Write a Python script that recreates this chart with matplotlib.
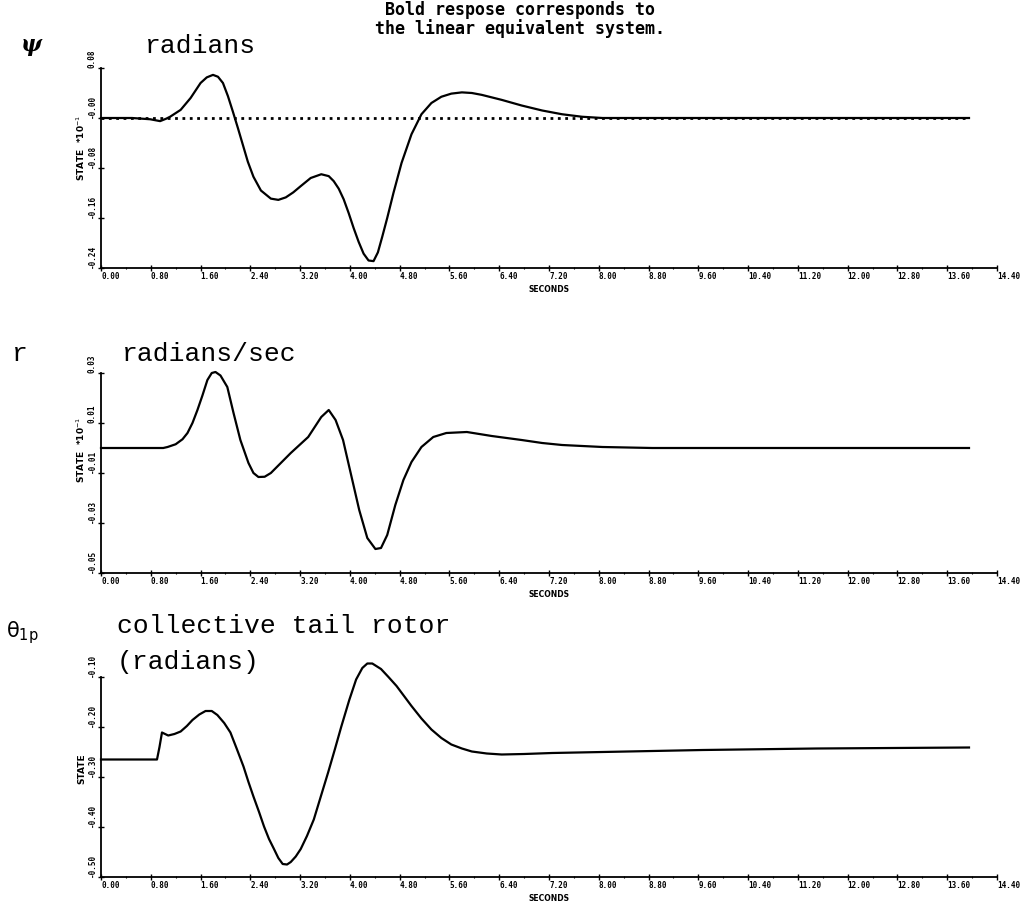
import matplotlib
matplotlib.use("Agg")
import matplotlib.pyplot as plt
import numpy as np

# yaw angle response (x 10^-1 rad)
t_psi = [0.00, 0.50, 0.79, 0.95, 1.05, 1.11, 1.28, 1.44, 1.60, 1.70, 1.80, 1.88,
         1.96, 2.04, 2.12, 2.20, 2.28, 2.36, 2.45, 2.57, 2.73, 2.85, 2.97, 3.09,
         3.21, 3.37, 3.54, 3.66, 3.74, 3.82, 3.90, 3.98, 4.06, 4.14, 4.22, 4.30,
         4.38, 4.45, 4.52, 4.60, 4.70, 4.83, 4.99, 5.15, 5.31, 5.47, 5.63, 5.80,
         5.96, 6.12, 6.44, 6.76, 7.09, 7.41, 7.73, 8.06, 9.00, 13.95]
psi = [0.000, 0.000, -0.002, -0.005, -0.001, 0.002, 0.013, 0.032, 0.056, 0.065, 0.069, 0.066,
       0.056, 0.035, 0.010, -0.016, -0.043, -0.070, -0.094, -0.116, -0.129, -0.131, -0.127, -0.119,
       -0.109, -0.096, -0.090, -0.093, -0.101, -0.113, -0.130, -0.152, -0.176, -0.198, -0.217, -0.228,
       -0.229, -0.215, -0.190, -0.160, -0.120, -0.072, -0.026, 0.006, 0.024, 0.034, 0.039, 0.041,
       0.040, 0.037, 0.029, 0.020, 0.012, 0.006, 0.002, 0.000, 0.000, 0.000]
# linear equivalent system (dotted)
t_psi_lin = [0.00, 13.95]
psi_lin = [0.0, 0.0]

# yaw rate response (x 10^-1 rad/s)
t_r = [0.00, 1.00, 1.07, 1.20, 1.31, 1.39, 1.47, 1.55, 1.63, 1.71, 1.78, 1.84,
       1.92, 2.03, 2.13, 2.24, 2.37, 2.45, 2.53, 2.63, 2.73, 2.89, 3.05, 3.33,
       3.54, 3.66, 3.77, 3.89, 4.02, 4.15, 4.28, 4.41, 4.50, 4.60, 4.73, 4.86,
       4.99, 5.15, 5.34, 5.55, 5.88, 6.28, 6.76, 7.09, 7.41, 8.06, 8.86, 13.95]
r = [0.0, 0.0, 0.0004, 0.0015, 0.0035, 0.006, 0.010, 0.0152, 0.021, 0.0272, 0.030, 0.0304,
     0.029, 0.0244, 0.014, 0.0032, -0.006, -0.010, -0.0116, -0.0115, -0.010, -0.006, -0.002, 0.0044,
     0.0124, 0.0152, 0.0112, 0.0032, -0.0108, -0.0248, -0.036, -0.0404, -0.040, -0.0348, -0.0228, -0.0128,
     -0.0056, 0.0004, 0.0044, 0.006, 0.0064, 0.0048, 0.0032, 0.002, 0.0012, 0.0004, 0.0, 0.0]

# collective tail rotor (rad)
t_th = [0.00, 0.90, 0.94, 0.98, 1.03, 1.08, 1.18, 1.28, 1.38, 1.47, 1.58, 1.68,
        1.78, 1.87, 1.98, 2.08, 2.18, 2.29, 2.37, 2.45, 2.54, 2.62, 2.70, 2.78,
        2.85, 2.92, 2.99, 3.05, 3.13, 3.21, 3.31, 3.42, 3.53, 3.65, 3.76, 3.86,
        3.99, 4.10, 4.20, 4.28, 4.36, 4.50, 4.62, 4.75, 4.87, 4.99, 5.15, 5.31,
        5.47, 5.63, 5.80, 5.96, 6.20, 6.44, 6.80, 7.25, 8.06, 9.67, 11.50, 13.95]
theta = [-0.265, -0.265, -0.240, -0.211, -0.214, -0.217, -0.214, -0.209, -0.198, -0.186, -0.175, -0.168,
         -0.168, -0.176, -0.192, -0.211, -0.243, -0.279, -0.310, -0.339, -0.370, -0.399, -0.424, -0.444,
         -0.462, -0.474, -0.475, -0.470, -0.459, -0.444, -0.418, -0.385, -0.340, -0.291, -0.244, -0.200,
         -0.146, -0.105, -0.082, -0.073, -0.073, -0.084, -0.100, -0.118, -0.138, -0.158, -0.183, -0.205,
         -0.222, -0.235, -0.243, -0.249, -0.253, -0.255, -0.254, -0.252, -0.250, -0.246, -0.243, -0.241]

x_ticks = [0.0, 0.8, 1.6, 2.4, 3.2, 4.0, 4.8, 5.6, 6.4, 7.2, 8.0, 8.8, 9.6,
           10.4, 11.2, 12.0, 12.8, 13.6, 14.4]
x_labels = ["%.2f" % v for v in x_ticks]

psi_ticks = [0.08, 0.0, -0.08, -0.16, -0.24]
psi_labels = ["0.08", "-0.00", "-0.08", "-0.16", "-0.24"]
r_ticks = [0.03, 0.01, -0.01, -0.03, -0.05]
r_labels = ["0.03", "0.01", "-0.01", "-0.03", "-0.05"]
th_ticks = [-0.10, -0.20, -0.30, -0.40, -0.50]
th_labels = ["-0.10", "-0.20", "-0.30", "-0.40", "-0.50"]

W, H = 1022, 910
fig = plt.figure(figsize=(W / 100, H / 100), dpi=100)
fig.patch.set_facecolor("white")

tick_font = dict(family="DejaVu Sans Mono", weight="bold", size=5.5)


def make_panel(top_px, yticks, ylabels, ylabel, label_y):
    ax = fig.add_axes([101 / W, 1 - (top_px + 200) / H, 896 / W, 200 / H])
    ax.set_xlim(0, 14.4)
    ax.set_ylim(yticks[-1], yticks[0])
    ax.spines["top"].set_visible(False)
    ax.spines["right"].set_visible(False)
    ax.spines["left"].set_linewidth(1.3)
    ax.spines["bottom"].set_linewidth(1.3)

    ax.set_xticks(x_ticks)
    ax.set_xticklabels(x_labels, fontdict=tick_font)
    for lbl in ax.get_xticklabels():
        lbl.set_ha("left")
    ax.set_xticks(np.arange(0.4, 14.4, 0.8), minor=True)

    ax.set_yticks(yticks)
    ax.set_yticklabels(ylabels, fontdict=tick_font)
    for lbl in ax.get_yticklabels():
        lbl.set_rotation(90)
        lbl.set_va("bottom")
        lbl.set_ha("right")

    ax.tick_params(axis="both", which="major", direction="inout", length=4, width=1, pad=1)
    ax.tick_params(axis="both", which="minor", direction="inout", length=2, width=0.8)

    ax.text(7.2, -0.085, "SECONDS", transform=ax.get_xaxis_transform(),
            ha="center", va="top", family="DejaVu Sans", weight="bold", size=5.5)
    ax.set_ylabel(ylabel, family="DejaVu Sans", weight="bold", size=6.5)
    ax.yaxis.set_label_coords(-0.016, label_y)
    return ax


ax1 = make_panel(68, psi_ticks, psi_labels, r"STATE  *10$^{-1}$", 0.60)
ax1.plot(t_psi_lin, psi_lin, color="black", lw=2.0, ls=":")
ax1.plot(t_psi, psi, color="black", lw=1.6, clip_on=False)

ax2 = make_panel(373, r_ticks, r_labels, r"STATE  *10$^{-1}$", 0.615)
ax2.plot(t_r, r, color="black", lw=1.6, clip_on=False)

ax3 = make_panel(677, th_ticks, th_labels, "STATE", 0.54)
ax3.plot(t_th, theta, color="black", lw=1.6, clip_on=False)

# panel headings
title_font = dict(family="Liberation Mono", size=19, color="black")
fig.text(31 / W, 1 - 45 / H, "ψ", ha="center", va="center", family="DejaVu Serif",
         style="italic", weight="bold", size=16)
fig.text(145 / W, 1 - 53 / H, "radians", va="baseline", **title_font)
fig.text(12 / W, 1 - 361 / H, "r", va="baseline", **title_font)
fig.text(122 / W, 1 - 361 / H, "radians/sec", va="baseline", **title_font)
fig.text(6 / W, 1 - 637 / H, r"$\mathrm{\theta}_{\mathrm{1p}}$", va="baseline", size=15)
fig.text(117 / W, 1 - 633 / H, "collective tail rotor", va="baseline", **title_font)
fig.text(117 / W, 1 - 669 / H, "(radians)", va="baseline", **title_font)

note_font = dict(family="DejaVu Sans Mono", weight="bold", size=12, va="baseline")
fig.text(385 / W, 1 - 15 / H, "Bold respose corresponds to", **note_font)
fig.text(375 / W, 1 - 34 / H, "the linear equivalent system.", **note_font)

fig.savefig("out.png", dpi=100, facecolor="white")
